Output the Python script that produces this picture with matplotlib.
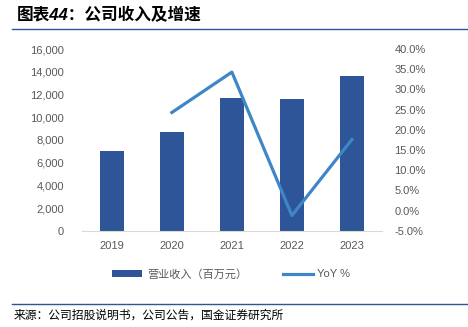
import matplotlib.pyplot as plt
from matplotlib.ticker import FuncFormatter, MultipleLocator

plt.rcParams['font.family'] = ['Liberation Sans', 'Noto Sans CJK SC', 'DejaVu Sans']

# 数据
years = ['2019', '2020', '2021', '2022', '2023']
revenue = [7000, 8700, 11700, 11600, 13600]      # 营业收入（百万元）
yoy_years = ['2020', '2021', '2022', '2023']
yoy = [24.3, 34.3, -1.2, 17.6]                   # YoY %

bar_color = '#2E5597'
line_color = '#3F86C6'
tick_color = '#595959'

fig = plt.figure(figsize=(4.68, 3.27), dpi=100)
ax = fig.add_axes([0.175, 0.294, 0.641, 0.556])

x = list(range(len(years)))
ax.bar(x, revenue, width=0.4, color=bar_color, label='营业收入（百万元）', zorder=2)
ax.set_ylim(0, 16000)
ax.set_xlim(-0.5, len(years) - 0.5)
ax.yaxis.set_major_locator(MultipleLocator(2000))
ax.yaxis.set_major_formatter(FuncFormatter(lambda v, p: f'{v:,.0f}'))
ax.set_xticks(x)
ax.set_xticklabels(years)

ax2 = ax.twinx()
yx = [years.index(y) for y in yoy_years]
ax2.plot(yx, yoy, color=line_color, linewidth=2.3, label='YoY %', zorder=3)
ax2.set_ylim(-5, 40)
ax2.yaxis.set_major_locator(MultipleLocator(5))
ax2.yaxis.set_major_formatter(FuncFormatter(lambda v, p: f'{v:.1f}%'))

for a in (ax, ax2):
    for s in a.spines.values():
        s.set_visible(False)
    a.tick_params(length=0, labelsize=8, colors=tick_color)
ax.spines['bottom'].set_visible(True)
ax.spines['bottom'].set_color('#D9D9D9')
ax.tick_params(axis='y', pad=13)
ax.tick_params(axis='x', pad=7)
ax2.tick_params(axis='y', pad=9)

h1, l1 = ax.get_legend_handles_labels()
h2, l2 = ax2.get_legend_handles_labels()
fig.legend(h1 + h2, l1 + l2, loc='center', bbox_to_anchor=(0.494, 0.162), ncol=2,
           frameon=False, fontsize=8, labelcolor=tick_color, handlelength=2.7,
           handleheight=0.5, columnspacing=3.2, handletextpad=0.4)

# 标题与来源
fig.text(0.036, 0.953, '图表44：公司收入及增速', fontsize=12, fontweight='bold',
         fontstyle='italic', va='center', ha='left', color='#000000')
fig.add_artist(plt.Line2D([0.026, 1.0], [0.911, 0.911], color='#2E5597', linewidth=1.0))
fig.add_artist(plt.Line2D([0.026, 1.0], [0.07, 0.07], color='#2E5597', linewidth=1.0))
fig.text(0.03, 0.036, '来源：公司招股说明书，公司公告，国金证券研究所', fontsize=8.5,
         va='center', ha='left', color='#000000')

fig.savefig('out.png', dpi=100)
